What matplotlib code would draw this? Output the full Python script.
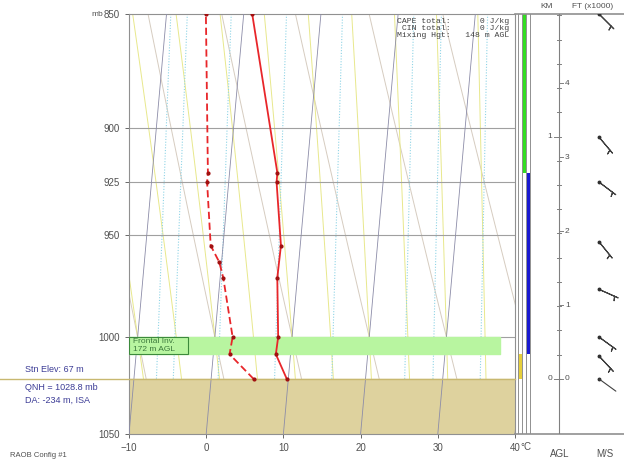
import numpy as np
import matplotlib.pyplot as plt
from matplotlib.patches import Rectangle

plt.rcParams['font.family'] = ['Liberation Sans', 'DejaVu Sans']

# sounding (deg C, mb)
t_pres = [1021.3, 1008.7, 1000, 970.6, 955, 925, 920.8, 850]
t_temp = [9.8, 8.1, 8.2, 7.4, 7.5, 6.2, 6.2, 1.1]
td_pres = [1021.3, 1008.7, 1000, 970.6, 963, 955, 925, 920.8, 850]
td_temp = [5.5, 2.1, 2.3, 0.4, -0.3, -1.6, -2.8, -2.8, -4.9]

# winds (deg, m/s)
wind_pres = [1021.3, 1009.6, 1000, 976.3, 953.2, 925, 904.3, 850]
wind_dir = [126, 137, 126, 114, 141, 127, 140, 135]
wind_spd = [2, 5, 5, 5, 5, 5, 5, 5]

p_levels = [850, 900, 925, 950, 1000, 1050]
t_ticks = [-10, 0, 10, 20, 30, 40]
stn_pres = 1021.3
inv_top, inv_bot = 1000, 1008.7

# layer bars next to the diagram
layer_top = [850, 920.8, 1008.7]
layer_bot = [920.8, 1008.7, 1021.3]
layer_col = ['#33dd22', '#1a1ad0', '#e6cf3c']

km_ticks = [0, 1]
ft_ticks = [0, 1, 2, 3, 4]

mix_ratios = [1.3, 2.2, 2.6, 4, 6.7, 11, 20, 25, 36]
K = 23.0  # skew


def skew(t, p):
    return np.asarray(t) + K * np.log(1050.0 / np.asarray(p))


def z2p(z):
    return stn_pres * np.exp(-np.asarray(z) / 8200.0)


def moist(t0, p):
    Rd, cp, Lv, eps = 287.04, 1005.7, 2.501e6, 0.622

    def f(T, pp):
        es = 6.112 * np.exp(17.67 * (T - 273.15) / (T - 29.65))
        rs = eps * es / (pp - es)
        return (Rd * T + Lv * rs) / (cp + Lv * Lv * rs * eps / (Rd * T * T)) / pp

    out = [t0 + 273.15]
    for i in range(1, len(p)):
        dp = p[i] - p[i - 1]
        T = out[-1]
        k1 = f(T, p[i - 1])
        k2 = f(T + dp * k1, p[i])
        out.append(T + dp * (k1 + k2) / 2)
    return np.array(out) - 273.15


fig = plt.figure(figsize=(6.24, 4.65), dpi=100)
L, R, B, T = 129 / 624, 515 / 624, 1 - 434 / 465, 1 - 14 / 465
ax = fig.add_axes([L, B, R - L, T - B])
ax.set_yscale('log')
ax.set_ylim(1050, 850)
ax.set_xlim(-10, 40)

pp = np.geomspace(850, 1050, 80)
# isotherms
for t in range(-60, 50, 10):
    ax.plot(skew(t, pp), pp, color='#8c8ca8', lw=0.6, zorder=3)
# dry adiabats
for th in range(-40, 90, 10):
    tt = (th + 273.15) * (pp / 1000.0) ** 0.2857 - 273.15
    ax.plot(skew(tt, pp), pp, color='#d6ccc0', lw=0.7, zorder=1)
# moist adiabats
up = np.linspace(1000, 840, 60)
dn = np.linspace(1000, 1055, 20)
for tw in range(-15, 45, 5):
    ax.plot(skew(moist(tw, up), up), up, color='#e8e88c', lw=0.7, zorder=1)
    ax.plot(skew(moist(tw, dn), dn), dn, color='#e8e88c', lw=0.7, zorder=1)
# mixing ratio lines
for w in mix_ratios:
    e = w * pp / (622.0 + w)
    a = np.log(e / 6.112)
    td = 243.5 * a / (17.67 - a)
    ax.plot(skew(td, pp), pp, color='#8fd4e6', lw=0.8, ls=(0, (1, 1.5)), zorder=1)

for p in p_levels[1:-1]:
    ax.axhline(p, color='#a0a0a0', lw=0.8, zorder=2)

# ground and frontal inversion
ax.fill_between([-10, 40], stn_pres, 1050, color='#ded29e', zorder=2)
ax.plot([-129 / 386, 1], [stn_pres, stn_pres], color='#c8b870', lw=1,
        transform=ax.get_yaxis_transform(), clip_on=False, zorder=4)
ax.fill_between([-10, 38], inv_top, inv_bot, color='#b8f5a0', zorder=4)
ax.add_patch(Rectangle((-10, inv_top), 7.6, inv_bot - inv_top, fc='#b8f5a0',
                       ec='#3c8a3c', lw=0.8, zorder=5))
ax.text(-9.5, (inv_top + inv_bot) / 2, 'Frontal Inv.\n172 m AGL', fontsize=6,
        color='#3c7a3c', va='center', linespacing=1.1, zorder=6)

# temperature and dewpoint
ax.plot(skew(t_temp, t_pres), t_pres, color='#e8262a', lw=1.3, zorder=7)
ax.plot(skew(td_temp, td_pres), td_pres, color='#e8262a', lw=1.3,
        ls=(0, (4, 2)), zorder=7)
ax.plot(skew(t_temp, t_pres), t_pres, 'o', ms=2, color='#a01010', zorder=8)
ax.plot(skew(td_temp, td_pres), td_pres, 'o', ms=2, color='#a01010', zorder=8)

ax.set_yticks(p_levels)
ax.set_yticklabels([str(p) for p in p_levels])
ax.yaxis.set_minor_locator(plt.NullLocator())
ax.set_xticks(t_ticks)
ax.tick_params(labelsize=7, colors='#505050', length=3, width=0.6)
for s in ax.spines.values():
    s.set_color('#909090')
    s.set_linewidth(0.8)
ax.text(-0.066, 1.0, 'mb', transform=ax.transAxes, fontsize=6,
        color='#505050', ha='right', va='center')
ax.text(1.028, -0.02, '\u00b0C', transform=ax.transAxes, fontsize=7,
        color='#505050', ha='center', va='top')

ax.text(0.985, 0.99, 'CAPE total:      0 J/kg\n CIN total:      0 J/kg\n'
        'Mixing Hgt:   148 m AGL', transform=ax.transAxes, ha='right', va='top',
        family='Liberation Mono', fontsize=5.9, color='#404040',
        linespacing=1.0, zorder=9)

fig.text(25 / 624, 1 - 370 / 465, 'Stn Elev: 67 m', fontsize=6.5, color='#3c3c96',
         va='center')
fig.text(25 / 624, 1 - 387 / 465, 'QNH = 1028.8 mb', fontsize=6.5, color='#3c3c96',
         va='center')
fig.text(25 / 624, 1 - 400 / 465, 'DA: -234 m, ISA', fontsize=6.5, color='#3c3c96',
         va='center')
fig.text(10 / 624, 1 - 455 / 465, 'RAOB Config #1', fontsize=5.5, color='#505050',
         va='center')
fig.text(547 / 624, 1 - 7 / 465, 'KM', fontsize=6, color='#505050',
         ha='center', va='center')
fig.text(593 / 624, 1 - 7 / 465, 'FT (x1000)', fontsize=6, color='#505050',
         ha='center', va='center')

# right panel: layer bars, height scale and winds
ax2 = fig.add_axes([R, B, 1 - R, T - B])
ax2.set_yscale('log')
ax2.set_ylim(1050, 850)
ax2.set_xlim(0, 109)
ax2.axis('off')
ax2.plot([0, 109], [850, 850], color='#909090', lw=1.2, clip_on=False)
ax2.plot([0, 109], [1050, 1050], color='#909090', lw=1.2, clip_on=False)
for x in [3, 7, 11, 15]:
    ax2.plot([x, x], [850, 1050], color='#909090', lw=0.7)
bar_x = {'#33dd22': (7.3, 10.7), '#1a1ad0': (11.6, 15), '#e6cf3c': (3.4, 7.2)}
for top, bot, c in zip(layer_top, layer_bot, layer_col):
    x0, x1 = bar_x[c]
    ax2.fill_betweenx([top, bot], x0, x1, color=c, lw=0)

hx = 44
ax2.plot([hx, hx], [850, 1050], color='#808080', lw=0.8)
for z in range(0, 1600, 100):
    p = z2p(z)
    if p > 850:
        ax2.plot([hx - 2, hx + 2], [p, p], color='#808080', lw=0.7)
for k in km_ticks:
    p = z2p(k * 1000)
    ax2.plot([hx - 5, hx], [p, p], color='#808080', lw=0.7)
    ax2.text(hx - 7, p, str(k), fontsize=6, color='#505050', ha='right', va='center')
for f in ft_ticks:
    p = z2p(f * 304.8)
    ax2.plot([hx, hx + 4], [p, p], color='#808080', lw=0.7)
    ax2.text(hx + 6, p, str(f), fontsize=6, color='#505050', ha='left', va='center')

ax2.text(hx + 1, 1058, 'AGL', fontsize=7, color='#505050', ha='center', va='top')
ax2.text(90, 1058, 'M/S', fontsize=7, color='#505050', ha='center', va='top')

wd = np.radians(wind_dir)
ws = np.array(wind_spd, dtype=float)
u = -ws * np.sin(wd)
v = -ws * np.cos(wd)
wx = 84
strong = ws >= 5
ax2.barbs(np.full(strong.sum(), wx), np.array(wind_pres)[strong], u[strong], v[strong],
          length=5.5, color='#404040', lw=0.8, pivot='tip')
for p, d in zip(np.array(wind_pres)[~strong], wd[~strong]):
    ax2.annotate('', xy=(wx, p), xytext=(15 * np.sin(d), 15 * np.cos(d)),
                 textcoords='offset points',
                 arrowprops=dict(arrowstyle='-', color='#404040', lw=0.8,
                                 shrinkA=0, shrinkB=0))
ax2.plot(np.full(len(wind_pres), wx), wind_pres, 'o', ms=1.8, color='#303030')

fig.savefig('out.png', dpi=100)
